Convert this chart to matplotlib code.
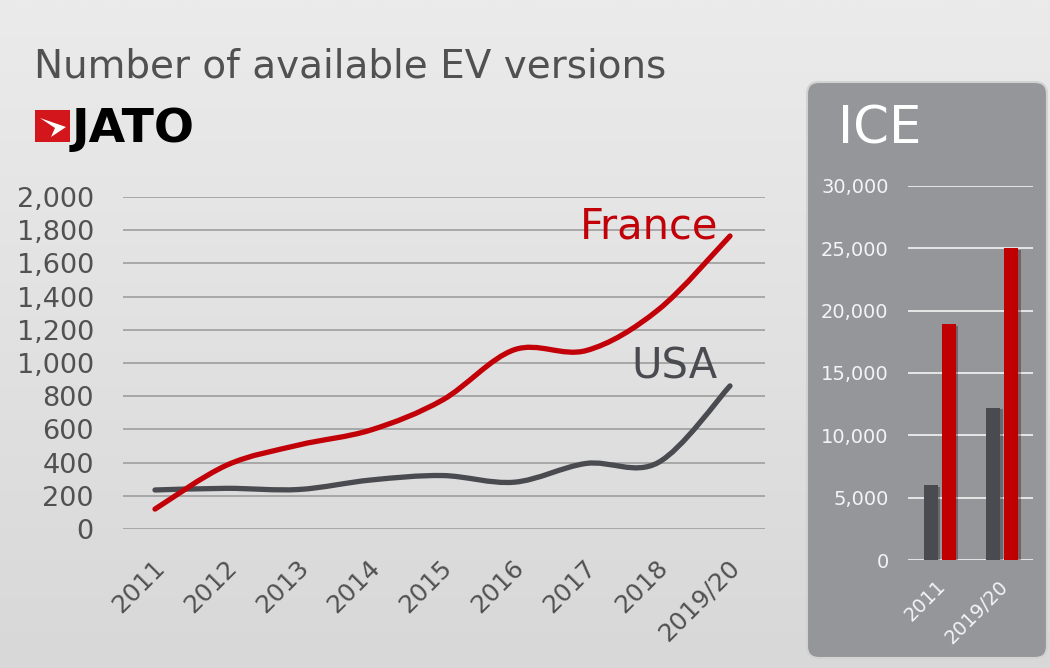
import numpy as np
import matplotlib
matplotlib.use("Agg")
import matplotlib.pyplot as plt
from matplotlib.path import Path
from matplotlib.patches import PathPatch, FancyBboxPatch, Rectangle, Polygon
from matplotlib.transforms import ScaledTranslation
import matplotlib.patheffects as pe

years = ["2011", "2012", "2013", "2014", "2015", "2016", "2017", "2018", "2019/20"]
france = [120, 385, 506, 596, 777, 1080, 1075, 1320, 1765]
usa = [235, 245, 238, 295, 322, 282, 395, 400, 862]

ice_years = ["2011", "2019/20"]
ice_usa = [6000, 12200]
ice_france = [18900, 25000]

RED = "#c10008"
DARK = "#4a4b50"
GREY = "#515151"

plt.rcParams["font.family"] = "DejaVu Sans"

fig = plt.figure(figsize=(10.5, 6.68), dpi=100)

# background (pixel coordinates)
bg = fig.add_axes([0, 0, 1, 1])
bg.set_xlim(0, 1050)
bg.set_ylim(668, 0)
bg.axis("off")
grad = np.linspace(0, 1, 256)[:, None]
bg.imshow(grad, extent=[0, 1050, 668, 0], cmap=matplotlib.colors.LinearSegmentedColormap.from_list(
    "bg", ["#ebebeb", "#d8d8d8"]), aspect="auto", zorder=0)

bg.add_patch(FancyBboxPatch((807, 82), 240, 576, boxstyle="round,pad=0,rounding_size=12",
                            fc="#95969a", ec="#d2d2d2", lw=1.5, zorder=1))
bg.text(838, 144, "ICE", color="white", fontsize=37, va="baseline", ha="left", zorder=2)

# title and logo
bg.text(34, 78, "Number of available EV versions", color=GREY, fontsize=28,
        va="baseline", ha="left", zorder=2)
bg.add_patch(Rectangle((35, 110), 35, 32, fc="#d3161c", ec="none", zorder=2))
bg.add_patch(Polygon([(40, 118), (66, 127), (51, 137), (55, 128)], closed=True,
                     fc="white", ec="none", zorder=3))
bg.text(72, 142, "JATO", color="black", fontsize=34, fontweight="bold",
        va="baseline", ha="left", zorder=2)


def smooth_path(xs, ys):
    pts = np.column_stack([xs, ys]).astype(float)
    verts = [pts[0]]
    codes = [Path.MOVETO]
    n = len(pts)
    for i in range(n - 1):
        p0 = pts[max(i - 1, 0)]
        p1 = pts[i]
        p2 = pts[i + 1]
        p3 = pts[min(i + 2, n - 1)]
        c1 = p1 + (p2 - p0) / 6.0
        c2 = p2 - (p3 - p1) / 6.0
        verts += [c1, c2, p2]
        codes += [Path.CURVE4] * 3
    return Path(verts, codes)


# main line chart
ax = fig.add_axes([123 / 1050, 139 / 668, 642 / 1050, 332 / 668])
ax.set_facecolor("none")
x = np.arange(len(years))
ax.set_xlim((123 - 155) / 71.875, (765 - 155) / 71.875)
ax.set_ylim(0, 2000)
ax.set_yticks(np.arange(0, 2001, 200))
ax.set_yticklabels([f"{v:,}" for v in range(0, 2001, 200)])
ax.grid(axis="y", color="#a3a3a3", lw=1.3)
ax.set_axisbelow(True)
for s in ax.spines.values():
    s.set_visible(False)
ax.tick_params(axis="y", length=0, pad=21, labelsize=19.5, labelcolor=GREY)
ax.tick_params(axis="x", length=0, pad=25, labelsize=18, labelcolor=GREY)
ax.set_xticks(x)
ax.set_xticklabels(years, rotation=45, ha="right", va="center", rotation_mode="anchor")
for lab in ax.get_xticklabels():
    lab.set_transform(lab.get_transform() + ScaledTranslation(6 / 100, 0, fig.dpi_scale_trans))

ax.add_patch(PathPatch(smooth_path(x, usa), fill=False, ec=DARK, lw=3.8,
                       capstyle="round", joinstyle="round", clip_on=False, zorder=3))
ax.add_patch(PathPatch(smooth_path(x, france), fill=False, ec=RED, lw=3.8,
                       capstyle="round", joinstyle="round", clip_on=False, zorder=4))
ax.text(7.833, 1753, "France", color=RED, fontsize=30, ha="right", va="baseline")
ax.text(7.833, 905, "USA", color=DARK, fontsize=30, ha="right", va="baseline")

# ICE bar chart
ax2 = fig.add_axes([908 / 1050, 108 / 668, 125 / 1050, 374 / 668])
ax2.set_facecolor("none")
xi = np.arange(len(ice_years))
ax2.set_xlim(-0.504, 1.496)
ax2.set_ylim(0, 30000)
ax2.set_yticks(np.arange(0, 30001, 5000))
ax2.set_yticklabels([f"{v:,}" for v in range(0, 30001, 5000)])
ax2.grid(axis="y", color="white", lw=1.2, alpha=0.9)
ax2.set_axisbelow(True)
for s in ax2.spines.values():
    s.set_visible(False)
ax2.tick_params(axis="y", length=0, pad=14, labelsize=14, labelcolor="#f4f4f4")
ax2.tick_params(axis="x", length=0, pad=17, labelsize=14, labelcolor="#f4f4f4")
shadow = [pe.SimplePatchShadow(offset=(2, -1), alpha=0.35), pe.Normal()]
ax2.bar(xi - 0.144, ice_usa, width=0.224, color=DARK, path_effects=shadow, zorder=3)
ax2.bar(xi + 0.144, ice_france, width=0.224, color="#c00000", path_effects=shadow, zorder=3)
ax2.set_xticks(xi)
ax2.set_xticklabels(ice_years, rotation=45, ha="right", va="center", rotation_mode="anchor")
for lab in ax2.get_xticklabels():
    lab.set_transform(lab.get_transform() + ScaledTranslation(3 / 100, 0, fig.dpi_scale_trans))

fig.savefig("out.png", dpi=100)
